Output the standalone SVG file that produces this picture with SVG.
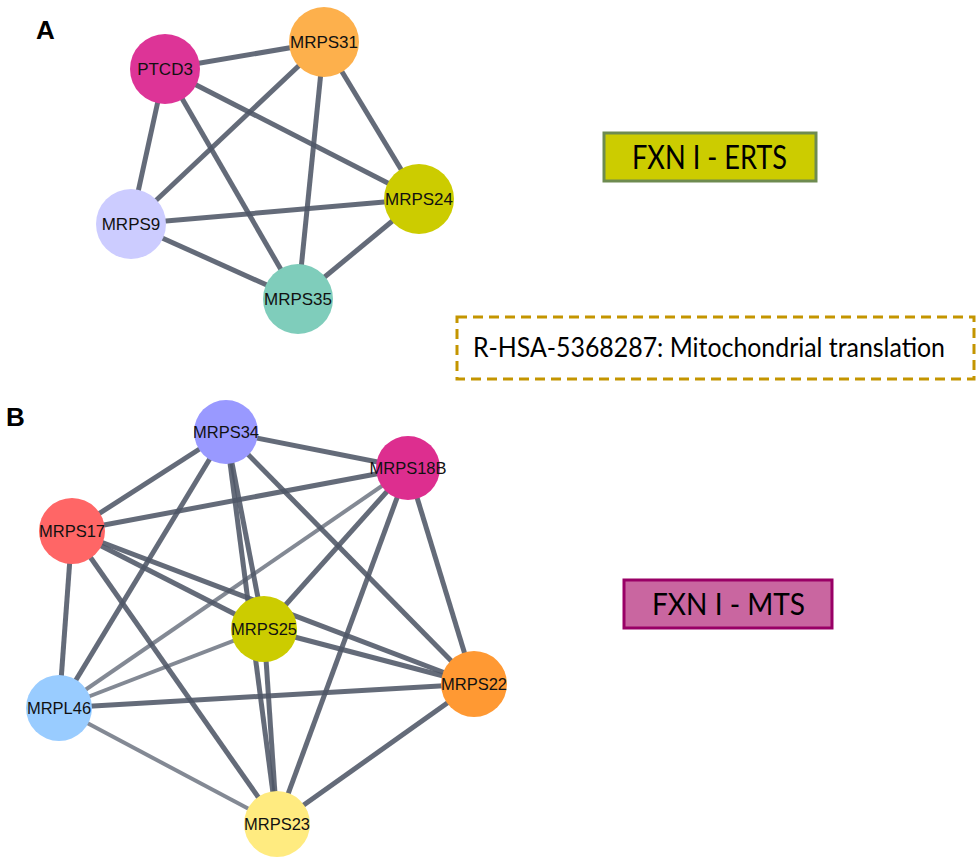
<svg xmlns="http://www.w3.org/2000/svg" width="979" height="857" viewBox="0 0 979 857">
  <style>
    .edge { stroke: #4f5766; stroke-width: 5; stroke-opacity: 0.88; fill: none; stroke-linecap: butt; }
    .edge.thin { stroke-width: 4; stroke-opacity: 0.7; }
    .node circle { stroke: none; }
    .node text { font-family: "Liberation Sans", Arial, sans-serif; fill: #111; text-anchor: middle; dominant-baseline: central; }
    .a text { font-size: 17px; }
    .b text { font-size: 16.5px; }
    .panel { font-family: "Liberation Sans", Arial, sans-serif; font-weight: bold; font-size: 26px; fill: #000; }
    .legend { font-family: Lato, "Open Sans", sans-serif; fill: #000; }
  </style>

  <!-- panel letters -->
  <text class="panel" x="36" y="39">A</text>
  <text class="panel" x="6" y="426">B</text>

  <!-- panel A connectors -->
  <g id="edges-a">
    <line class="edge" x1="165" y1="69" x2="324" y2="42"/>
    <line class="edge" x1="165" y1="69" x2="131" y2="224"/>
    <line class="edge" x1="165" y1="69" x2="298" y2="299"/>
    <line class="edge" x1="165" y1="69" x2="419" y2="199"/>
    <line class="edge" x1="324" y1="42" x2="131" y2="224"/>
    <line class="edge" x1="324" y1="42" x2="298" y2="299"/>
    <line class="edge" x1="324" y1="42" x2="419" y2="199"/>
    <line class="edge" x1="131" y1="224" x2="419" y2="199"/>
    <line class="edge" x1="131" y1="224" x2="298" y2="299"/>
    <line class="edge" x1="419" y1="199" x2="298" y2="299"/>
  </g>

  <!-- panel A nodes -->
  <g id="PTCD3" class="node a"><circle cx="165" cy="69" r="35" fill="#DD3497"/><text x="165" y="69">PTCD3</text></g>
  <g id="MRPS31" class="node a"><circle cx="324" cy="42" r="35" fill="#FDB04C"/><text x="324" y="42">MRPS31</text></g>
  <g id="MRPS24" class="node a"><circle cx="419" cy="199" r="35" fill="#CCCC00"/><text x="419" y="199">MRPS24</text></g>
  <g id="MRPS9" class="node a"><circle cx="131" cy="224" r="35" fill="#CCCCFF"/><text x="131" y="224">MRPS9</text></g>
  <g id="MRPS35" class="node a"><circle cx="298" cy="299" r="35" fill="#7FCDBB"/><text x="298" y="299">MRPS35</text></g>

  <!-- legend boxes -->
  <g id="legend-erts">
    <rect x="604" y="133" width="212" height="48" fill="#CCCC00" stroke="#6E8B50" stroke-width="3"/>
    <text class="legend" x="632" y="169" font-size="32" textLength="155" lengthAdjust="spacingAndGlyphs">FXN I - ERTS</text>
  </g>
  <g id="legend-pathway">
    <rect x="457" y="317" width="517" height="62" fill="none" stroke="#C49500" stroke-width="3" stroke-dasharray="10 6"/>
    <text class="legend" x="473" y="357" font-size="26" textLength="472" lengthAdjust="spacingAndGlyphs">R-HSA-5368287: Mitochondrial translation</text>
  </g>
  <g id="legend-mts">
    <rect x="624" y="580" width="208" height="48" fill="#C966A0" stroke="#990066" stroke-width="3"/>
    <text class="legend" x="652" y="615" font-size="30" textLength="153" lengthAdjust="spacingAndGlyphs">FXN I - MTS</text>
  </g>

  <!-- panel B connectors -->
  <g id="edges-b">
    <line class="edge" x1="226" y1="432" x2="408" y2="468"/>
    <line class="edge" x1="226" y1="432" x2="72" y2="531"/>
    <line class="edge" x1="226" y1="432" x2="59" y2="708"/>
    <line class="edge" x1="226" y1="432" x2="264" y2="629"/>
    <line class="edge" x1="226" y1="432" x2="277" y2="824"/>
    <line class="edge" x1="226" y1="432" x2="474" y2="684"/>
    <line class="edge" x1="408" y1="468" x2="72" y2="531"/>
    <line class="edge" x1="408" y1="468" x2="264" y2="629"/>
    <line class="edge thin" x1="408" y1="468" x2="59" y2="708"/>
    <line class="edge" x1="408" y1="468" x2="277" y2="824"/>
    <line class="edge" x1="408" y1="468" x2="474" y2="684"/>
    <line class="edge" x1="72" y1="531" x2="59" y2="708"/>
    <line class="edge" x1="72" y1="531" x2="264" y2="629"/>
    <line class="edge" x1="72" y1="531" x2="474" y2="684"/>
    <line class="edge" x1="72" y1="531" x2="277" y2="824"/>
    <line class="edge thin" x1="264" y1="629" x2="59" y2="708"/>
    <line class="edge" x1="264" y1="629" x2="474" y2="684"/>
    <line class="edge" x1="264" y1="629" x2="277" y2="824"/>
    <line class="edge" x1="59" y1="708" x2="474" y2="684"/>
    <line class="edge thin" x1="59" y1="708" x2="277" y2="824"/>
    <line class="edge" x1="474" y1="684" x2="277" y2="824"/>
  </g>

  <!-- panel B nodes -->
  <g id="MRPS34" class="node b"><circle cx="226" cy="432" r="32" fill="#9999FF"/><text x="226" y="432">MRPS34</text></g>
  <g id="MRPS18B" class="node b"><circle cx="408" cy="468" r="32" fill="#DD2E8F"/><text x="408" y="468">MRPS18B</text></g>
  <g id="MRPS17" class="node b"><circle cx="72" cy="531" r="33" fill="#FF6666"/><text x="72" y="531">MRPS17</text></g>
  <g id="MRPS25" class="node b"><circle cx="264" cy="629" r="33" fill="#CCCC00"/><text x="264" y="629">MRPS25</text></g>
  <g id="MRPS22" class="node b"><circle cx="474" cy="684" r="33" fill="#FF9933"/><text x="474" y="684">MRPS22</text></g>
  <g id="MRPL46" class="node b"><circle cx="59" cy="708" r="33" fill="#99CCFF"/><text x="59" y="708">MRPL46</text></g>
  <g id="MRPS23" class="node b"><circle cx="277" cy="824" r="33" fill="#FFEB80"/><text x="277" y="824">MRPS23</text></g>
</svg>
